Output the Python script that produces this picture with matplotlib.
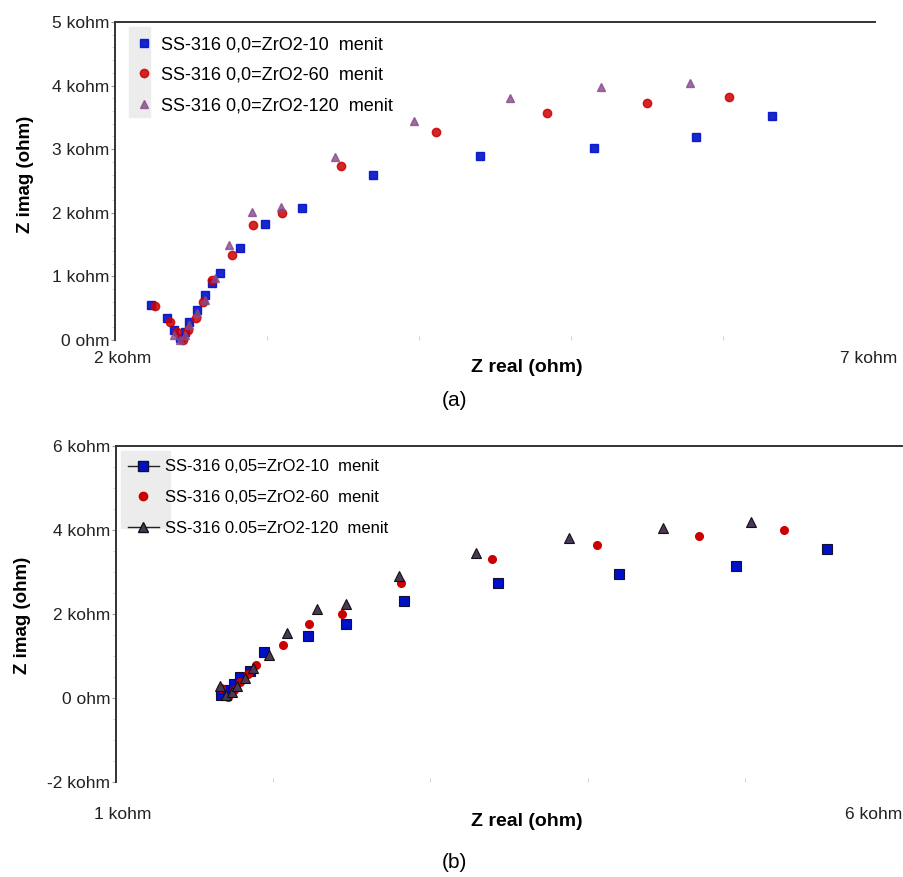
import numpy as np
import matplotlib
matplotlib.use('agg')
import matplotlib.pyplot as plt
import matplotlib.transforms as mtrans
from matplotlib.patches import Rectangle
from matplotlib.lines import Line2D

plt.rcParams['font.family'] = ['Liberation Sans', 'DejaVu Sans']

# panel (a): Z real / Z imag in kohm
a_x10 = [2.24, 2.34, 2.39, 2.43, 2.46, 2.49, 2.54, 2.59, 2.64, 2.69, 2.82, 2.99, 3.23, 3.70, 4.40, 5.15, 5.82, 6.32]
a_y10 = [0.55, 0.35, 0.16, 0.03, 0.12, 0.28, 0.47, 0.71, 0.90, 1.05, 1.45, 1.82, 2.08, 2.59, 2.89, 3.02, 3.19, 3.52]
a_x60 = [2.26, 2.36, 2.41, 2.45, 2.48, 2.53, 2.58, 2.64, 2.77, 2.91, 3.10, 3.49, 4.11, 4.84, 5.50, 6.04]
a_y60 = [0.53, 0.28, 0.13, 0.00, 0.16, 0.35, 0.60, 0.94, 1.34, 1.81, 2.00, 2.74, 3.27, 3.57, 3.73, 3.82]
a_x120 = [2.39, 2.43, 2.46, 2.49, 2.54, 2.59, 2.66, 2.75, 2.90, 3.09, 3.45, 3.97, 4.60, 5.20, 5.78]
a_y120 = [0.08, 0.00, 0.08, 0.24, 0.42, 0.63, 0.97, 1.49, 2.01, 2.09, 2.88, 3.44, 3.80, 3.98, 4.04]

# panel (b)
b_x10 = [1.67, 1.71, 1.75, 1.79, 1.85, 1.94, 2.22, 2.46, 2.83, 3.43, 4.20, 4.94, 5.52]
b_y10 = [0.07, 0.19, 0.33, 0.50, 0.64, 1.10, 1.48, 1.76, 2.31, 2.74, 2.95, 3.14, 3.55]
b_x60 = [1.67, 1.71, 1.75, 1.79, 1.84, 1.89, 2.06, 2.23, 2.44, 2.81, 3.39, 4.06, 4.71, 5.25]
b_y60 = [0.24, 0.02, 0.19, 0.38, 0.57, 0.79, 1.26, 1.76, 2.00, 2.74, 3.31, 3.64, 3.86, 4.00]
b_x120 = [1.66, 1.70, 1.74, 1.77, 1.82, 1.87, 1.97, 2.09, 2.28, 2.46, 2.80, 3.29, 3.88, 4.48, 5.04]
b_y120 = [0.29, 0.07, 0.14, 0.29, 0.48, 0.71, 1.02, 1.55, 2.12, 2.24, 2.90, 3.45, 3.81, 4.05, 4.19]

a_labels = ['SS-316 0,0=ZrO2-10  menit', 'SS-316 0,0=ZrO2-60  menit', 'SS-316 0,0=ZrO2-120  menit']
b_labels = ['SS-316 0,05=ZrO2-10  menit', 'SS-316 0,05=ZrO2-60  menit', 'SS-316 0.05=ZrO2-120  menit']

a_yticks = [0, 1, 2, 3, 4, 5]
a_yticklabels = ['0 ohm', '1 kohm', '2 kohm', '3 kohm', '4 kohm', '5 kohm']
b_yticks = [-2, 0, 2, 4, 6]
b_yticklabels = ['-2 kohm', '0 ohm', '2 kohm', '4 kohm', '6 kohm']

blue = '#0010c8'
red = '#cc0000'
purple = '#86488a'
dark = '#4a3856'

fig = plt.figure(figsize=(9.04, 8.77), dpi=100)
axa = fig.add_axes([0.1272, 0.6123, 0.8408, 0.3626])
axb = fig.add_axes([0.1283, 0.1083, 0.8697, 0.3831])

def style(ax, xlim, ylim, yt, ytl, xl, xpad, shifts, has, xlab_xy, ylab_xy):
    for s in ['right', 'bottom']:
        ax.spines[s].set_visible(False)
    for s in ['top', 'left']:
        ax.spines[s].set_color('#333333')
        ax.spines[s].set_linewidth(1.4)
    ax.set_xlim(*xlim)
    ax.set_ylim(*ylim)
    ax.set_xticks([xlim[0], xlim[1]])
    ax.set_xticklabels(xl)
    ax.set_xticks(np.arange(xlim[0] + 1, xlim[1]), minor=True)
    ax.set_yticks(yt)
    ax.set_yticklabels(ytl)
    ax.tick_params(axis='x', which='major', length=0, pad=xpad, labelsize=12.5, labelcolor='#222222')
    ax.tick_params(axis='x', which='minor', length=3, color='#cccccc', direction='in')
    ax.tick_params(axis='y', which='major', length=3, color='#999999', pad=1, labelsize=12.5, labelcolor='#222222')
    ax.tick_params(axis='y', which='minor', length=2, color='#cccccc')
    for lab, dx, ha in zip(ax.get_xticklabels(), shifts, has):
        lab.set_ha(ha)
        lab.set_transform(lab.get_transform() + mtrans.ScaledTranslation(dx / 100, 0, fig.dpi_scale_trans))
    ax.set_xlabel('Z real (ohm)', fontsize=14, fontweight='bold')
    ax.xaxis.set_label_coords(*xlab_xy)
    ax.set_ylabel('Z imag (ohm)', fontsize=13.5, fontweight='bold')
    ax.yaxis.set_label_coords(*ylab_xy)

# panel (a)
axa.plot(a_x10, a_y10, 's', color=blue, ms=6, mec=blue, alpha=0.9, label=a_labels[0], clip_on=False)
axa.plot(a_x60, a_y60, 'o', color=red, ms=6, mec=red, alpha=0.85, label=a_labels[1], clip_on=False)
axa.plot(a_x120, a_y120, '^', color=purple, ms=6, mec=purple, alpha=0.8, label=a_labels[2], clip_on=False)
style(axa, (2, 7), (0, 5), a_yticks, a_yticklabels, ['2 kohm', '7 kohm'], 8,
      [8, -6], ['center', 'center'], (0.542, -0.06), (-0.106, 0.52))
axa.set_yticks(np.arange(0, 5, 0.2), minor=True)
axa.add_patch(Rectangle((0.018, 0.70), 0.028, 0.285, transform=axa.transAxes, color='#ececec', zorder=0))
axa.legend(loc='upper left', bbox_to_anchor=(0.01, 0.995), frameon=False, fontsize=13,
           handletextpad=0.45, labelspacing=0.75, handlelength=1.0, borderaxespad=0.3)

# panel (b)
axb.plot(b_x10, b_y10, 's', color=blue, ms=6.5, mec='#101030', mew=0.8, label=b_labels[0], clip_on=False)
axb.plot(b_x60, b_y60, 'o', color=red, ms=5.5, mec=red, label=b_labels[1], clip_on=False)
axb.plot(b_x120, b_y120, '^', color=dark, ms=7, mec='#111111', mew=0.8, label=b_labels[2], clip_on=False)
style(axb, (1, 6), (-2, 6), b_yticks, b_yticklabels, ['1 kohm', '6 kohm'], 18,
      [7, 0], ['center', 'right'], (0.523, -0.093), (-0.108, 0.497))
axb.set_yticks(np.arange(-2, 6, 0.5), minor=True)
axb.add_patch(Rectangle((0.007, 0.755), 0.062, 0.23, transform=axb.transAxes, color='#ececec', zorder=0))
hh = [Line2D([], [], color='#222222', lw=1, marker='s', mfc=blue, mec='#101030', ms=7),
      Line2D([], [], color='none', marker='o', mfc=red, mec=red, ms=6),
      Line2D([], [], color='#222222', lw=1, marker='^', mfc=dark, mec='#111111', ms=7)]
axb.legend(hh, b_labels, loc='upper left', bbox_to_anchor=(0.0, 0.995), frameon=False, fontsize=12,
           handletextpad=0.35, labelspacing=0.95, handlelength=1.9, borderaxespad=0.3)

fig.text(0.503, 0.543, '(a)', ha='center', va='center', fontsize=15)
fig.text(0.503, 0.017, '(b)', ha='center', va='center', fontsize=15)

fig.savefig('out.png', dpi=100)
